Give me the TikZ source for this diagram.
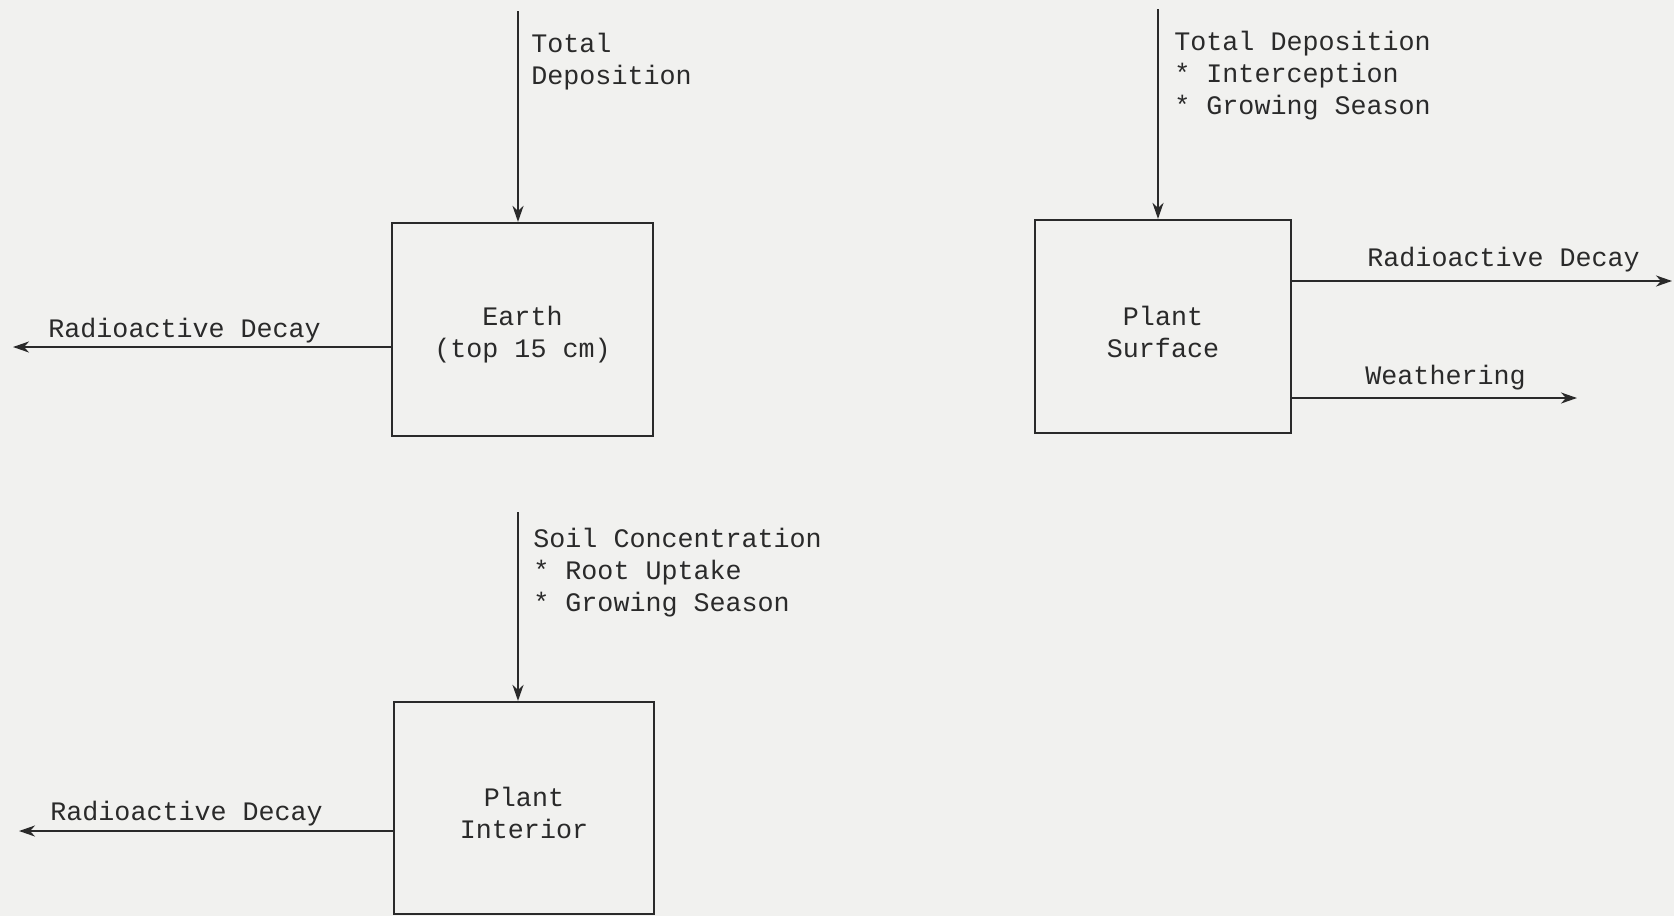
\documentclass[tikz,border=0pt]{standalone}
\usepackage{fontspec}
\setmainfont{Liberation Mono}
\usetikzlibrary{arrows.meta}
\definecolor{bg}{HTML}{F1F1EF}
\definecolor{ink}{HTML}{2A2A2A}
\tikzset{
  txt/.style={font=\fontsize{13.35pt}{16pt}\selectfont, text=ink, inner sep=0pt, align=left},
  intxt/.style={font=\fontsize{13.35pt}{16pt}\selectfont, text=ink, inner sep=0pt, align=center},
  box/.style={draw=ink, line width=1.1pt, inner sep=0pt},
  arr/.style={draw=ink, line width=1.1pt, -{Stealth[length=8pt,width=5.5pt,inset=2.5pt]}}
}
\begin{document}
\begin{tikzpicture}[x=0.5pt,y=-0.5pt]
\useasboundingbox (0,0) rectangle (1674,916);
\fill[bg] (0,0) rectangle (1674,916);

% boxes
\node[box, minimum width=130.5pt, minimum height=106.5pt] (earth) at (522.5,329.5) {};
\node[box, minimum width=128pt, minimum height=106.5pt] (surf) at (1163,326.5) {};
\node[box, minimum width=130pt, minimum height=106pt] (inter) at (524,808) {};
\node[intxt] (earthtxt) at ([yshift=-2.5pt]earth.center) {Earth\\(top 15 cm)};
\node[intxt] (surftxt) at ([yshift=-2.5pt]surf.center) {Plant\\Surface};
\node[intxt] (intertxt) at ([yshift=-2.5pt]inter.center) {Plant\\Interior};

% free ends
\coordinate (t1) at (518,11);
\coordinate (t2) at (1158,9);
\coordinate (t3) at (518,512);
\coordinate (l1) at (13,347);
\coordinate (l3) at (19,831);
\coordinate (r1) at (1672,281);
\coordinate (r2) at (1577,398);

% connectors
\draw[arr] (t1) -- (t1 |- earth.north);
\draw[arr] (t2) -- (t2 |- surf.north);
\draw[arr] (t3) -- (t3 |- inter.north);
\draw[arr] (l1 -| earth.west) -- (l1);
\draw[arr] (l3 -| inter.west) -- (l3);
\draw[arr] (r1 -| surf.east) -- (r1);
\draw[arr] (r2 -| surf.east) -- (r2);

% labels
\node[txt, anchor=west] (lab1) at (531,62) {Total\\Deposition};
\node[txt, anchor=west] (lab2) at (1174,76) {Total Deposition\\* Interception\\* Growing Season};
\node[txt, anchor=west] (lab3) at (533,573) {Soil Concentration\\* Root Uptake\\* Growing Season};
\node[txt, anchor=west] (lab4) at (48,331) {Radioactive Decay};
\node[txt, anchor=west] (lab5) at (50,814) {Radioactive Decay};
\node[txt, anchor=west] (lab6) at (1367,260) {Radioactive Decay};
\node[txt, anchor=west] (lab7) at (1365,378) {Weathering};
\end{tikzpicture}
\end{document}
